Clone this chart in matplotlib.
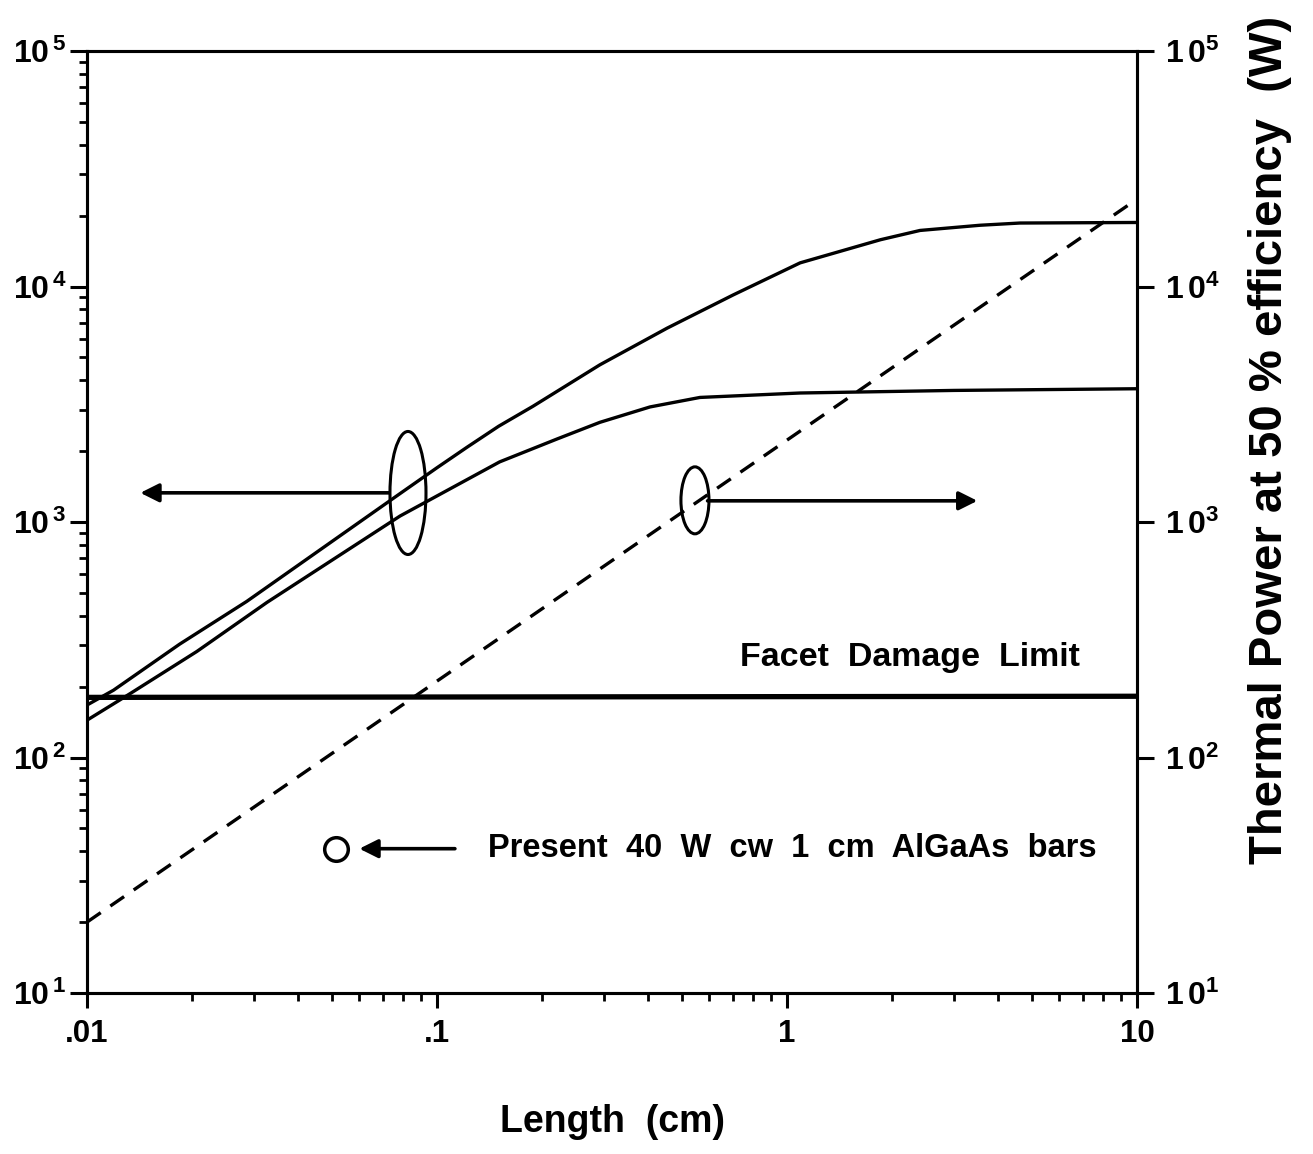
import numpy as np
import matplotlib
matplotlib.use("Agg")
import matplotlib.pyplot as plt
from matplotlib.patches import Ellipse
from matplotlib.ticker import FixedLocator, FixedFormatter, NullFormatter

# %% Daten

# obere Kurve (linke Achse)
L_oben = [0.01, 0.0119, 0.0184, 0.0286, 0.0784, 0.100, 0.122, 0.150, 0.188,
          0.292, 0.454, 0.701, 1.09, 1.85, 2.40, 3.56, 4.63, 10]
P_oben = [167, 193, 303, 460, 1320, 1700, 2080, 2550, 3100,
          4650, 6650, 9200, 12600, 15800, 17300, 18200, 18600, 18700]

# untere Kurve (linke Achse)
L_unten = [0.01, 0.0133, 0.0206, 0.0327, 0.0784, 0.151, 0.220, 0.292, 0.406,
           0.564, 1.09, 3.0, 10]
P_unten = [144, 187, 282, 456, 1060, 1800, 2250, 2650, 3080,
           3380, 3530, 3620, 3680]

# Facet Damage Limit
L_facet = [0.01, 10]
P_facet = [180, 182]

# thermische Leistung (rechte Achse, gestrichelt)
L_therm = [0.01, 10]
P_therm = [20, 23500]

# heutiger Barren
L_bar = [0.0515]
P_bar = [41]

x_ticks = [0.01, 0.1, 1, 10]
x_ticklabels = [".01", ".1", "1", "10"]
y_ticks = [1e1, 1e2, 1e3, 1e4, 1e5]
y_ticklabels = [r"$10^{\,1}$", r"$10^{\,2}$", r"$10^{\,3}$", r"$10^{\,4}$", r"$10^{\,5}$"]
y2_ticklabels = [r"$1\,0^{1}$", r"$1\,0^{2}$", r"$1\,0^{3}$", r"$1\,0^{4}$", r"$1\,0^{5}$"]

# %% Stil
plt.rcParams["font.family"] = ["Liberation Sans", "DejaVu Sans"]
plt.rcParams["font.weight"] = "bold"
plt.rcParams["mathtext.fontset"] = "custom"
plt.rcParams["mathtext.rm"] = "Liberation Sans:bold"
plt.rcParams["mathtext.bf"] = "Liberation Sans:bold"
plt.rcParams["mathtext.it"] = "Liberation Sans:bold"
plt.rcParams["mathtext.default"] = "rm"

W, H = 1313, 1154
fig = plt.figure(figsize=(W / 100, H / 100), dpi=100)
ax = fig.add_axes([87 / W, 1 - 993 / H, 1050 / W, 942 / H])

ax.set_xscale("log")
ax.set_yscale("log")
ax.set_xlim(0.01, 10)
ax.set_ylim(10, 1e5)

for s in ax.spines.values():
    s.set_linewidth(2.2)

# Kurven
ax.plot(L_oben, P_oben, color="black", lw=2.4)
ax.plot(L_unten, P_unten, color="black", lw=2.4)
ax.plot(L_facet, P_facet, color="black", lw=3.8)
ax.plot(L_bar, P_bar, "o", ms=17, mfc="white", mec="black", mew=2.5)

# rechte Achse
ax2 = ax.twinx()
ax2.set_yscale("log")
ax2.set_ylim(10, 1e5)
ax2.plot(L_therm, P_therm, color="black", lw=2.4, ls=(0, (5, 3.5)))
for s in ax2.spines.values():
    s.set_linewidth(2.2)

# Achsen-Ticks
ax.xaxis.set_major_locator(FixedLocator(x_ticks))
ax.xaxis.set_major_formatter(FixedFormatter(x_ticklabels))
ax.xaxis.set_minor_formatter(NullFormatter())
ax.tick_params(axis="x", which="major", direction="out", length=11, width=2.2,
               labelsize=22.5, pad=8, top=False)
ax.tick_params(axis="x", which="minor", direction="out", length=6, width=2,
               top=False)

ax.yaxis.set_major_locator(FixedLocator(y_ticks))
ax.yaxis.set_major_formatter(FixedFormatter(y_ticklabels))
ax.yaxis.set_minor_formatter(NullFormatter())
ax.tick_params(axis="y", which="major", direction="out", length=12, width=2.2,
               labelsize=23, pad=3, right=False)
ax.tick_params(axis="y", which="minor", direction="out", length=6, width=2,
               right=False)

ax2.yaxis.set_major_locator(FixedLocator(y_ticks))
ax2.yaxis.set_major_formatter(FixedFormatter(y2_ticklabels))
ax2.yaxis.set_minor_locator(FixedLocator([]))
ax2.tick_params(axis="y", which="major", direction="out", length=12, width=2.2,
                labelsize=23, pad=8)

# Ellipsen und Pfeile
ax2.add_patch(Ellipse((0.3057, 0.5308), 0.0343, 0.1306, transform=ax.transAxes,
                      fill=False, lw=2.2, ec="black"))
ax2.add_patch(Ellipse((0.579, 0.523), 0.0267, 0.0711, transform=ax.transAxes,
                      fill=False, lw=2.2, ec="black"))

pfeil = dict(arrowstyle="-|>", color="black", lw=2.6, mutation_scale=28,
             shrinkA=0, shrinkB=0)
ax2.annotate("", xy=(0.0142, 1330), xytext=(0.073, 1330), arrowprops=pfeil)
ax2.annotate("", xy=(3.5, 1230), xytext=(0.593, 1230), arrowprops=pfeil)
ax2.annotate("", xy=(0.0600, 41), xytext=(0.1125, 41), arrowprops=pfeil)

# Texte
ax2.text(0.736, 265, "Facet  Damage  Limit", fontsize=24.5, fontweight="bold",
         va="center", ha="left")
ax2.text(0.1395, 41, "Present  40  W  cw  1  cm  AlGaAs  bars", fontsize=23.5,
         fontweight="bold", va="center", ha="left")

fig.text(612 / W, 1 - 1122 / H, "Length  (cm)", fontsize=27, fontweight="bold",
         ha="center", va="center")
fig.text(1270 / W, 1 - 440 / H, "Thermal Power at 50 % efficiency  (W)",
         fontsize=34, fontweight="bold", rotation=90, ha="center", va="center")

fig.savefig("out.png", dpi=100, facecolor="white")
